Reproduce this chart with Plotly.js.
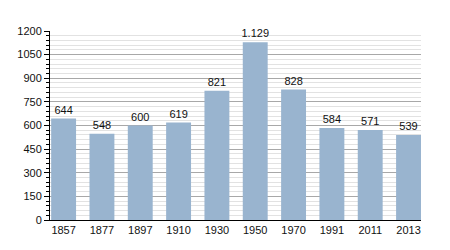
<!DOCTYPE html>
<html><head><meta charset="utf-8">
<script src="https://cdn.plot.ly/plotly-3.0.1.min.js"></script>
<style>body{margin:0;}#c{width:450px;height:250px;}</style>
</head><body><div id="c"></div>
<script>
const years = ["1857","1877","1897","1910","1930","1950","1970","1991","2011","2013"];
const population = [644, 548, 600, 619, 821, 1129, 828, 584, 571, 539];
const labels = ["644","548","600","619","821","1.129","828","584","571","539"];
const yTicks = [0,150,300,450,600,750,900,1050,1200];
const gap = 0.35;

Plotly.newPlot('c', [{
  type: 'bar', x: years, y: population, text: labels,
  textposition: 'outside', cliponaxis: false, constraintext: 'none',
  textfont: {family: 'Liberation Sans, Arial, sans-serif', size: 11, color: '#111'},
  marker: {color: 'rgb(153,180,207)'}
}], {
  width: 450, height: 250,
  margin: {l: 50, r: 29, t: 31, b: 30},
  paper_bgcolor: '#fff', plot_bgcolor: '#fff',
  bargap: gap,
  font: {family: 'Liberation Sans, Arial, sans-serif', size: 11, color: '#111'},
  xaxis: {type: 'category', range: [-(1 - gap) / 2 - 0.03, years.length - 1 + (1 - gap) / 2], showline: true, linecolor: '#000', linewidth: 1, ticks: '', tickfont: {size: 11}, showgrid: false},
  yaxis: {range: [0, 1200], tickvals: yTicks, showline: true, linecolor: '#000', linewidth: 1,
    ticks: 'outside', ticklen: 5, tickcolor: '#000', gridcolor: '#a8a8a8', zeroline: false,
    minor: {dtick: 30, tick0: 0, showgrid: true, gridcolor: '#e2e2e2', ticks: 'outside', ticklen: 3, tickcolor: '#000'}},
  showlegend: false
}, {staticPlot: true});
</script></body></html>
